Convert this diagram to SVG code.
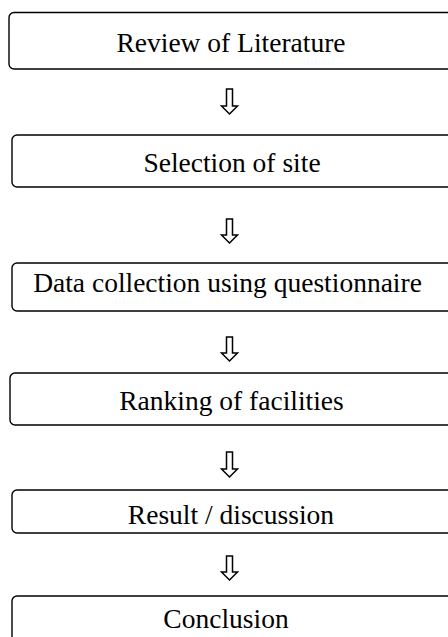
<svg xmlns="http://www.w3.org/2000/svg" width="448" height="637" viewBox="0 0 448 637">
<style>
.box{fill:#fff;stroke:#000;stroke-width:1.4}
.lbl{font-family:"Liberation Serif","Times New Roman",serif;font-size:27.5px;fill:#000;text-anchor:middle}
.arr{fill:#fff;stroke:#000;stroke-width:1.5;stroke-linejoin:miter}
</style>
<rect width="448" height="637" fill="#fff"/>
<g id="connectors">
<path class="arr" d="M226.5,89 H232.5 V106 H237.5 L229.5,114 L221.5,106 H226.5 Z"/>
<path class="arr" d="M226.5,219 H232.5 V235 H237.5 L229.5,243 L221.5,235 H226.5 Z"/>
<path class="arr" d="M226.5,337 H232.5 V353 H237.5 L229.5,361 L221.5,353 H226.5 Z"/>
<path class="arr" d="M226.5,452 H232.5 V469 H237.5 L229.5,477 L221.5,469 H226.5 Z"/>
<path class="arr" d="M226.5,556 H232.5 V572 H237.5 L229.5,580 L221.5,572 H226.5 Z"/>
</g>
<g id="n1"><rect class="box" x="9" y="12.5" width="460" height="56.5" rx="5"/><text class="lbl" x="231" y="52">Review of Literature</text></g>
<g id="n2"><rect class="box" x="12" y="135" width="460" height="52" rx="5"/><text class="lbl" x="232" y="172">Selection of site</text></g>
<g id="n3"><rect class="box" x="12" y="263" width="460" height="48" rx="5"/><text class="lbl" x="227.5" y="292">Data collection using questionnaire</text></g>
<g id="n4"><rect class="box" x="10" y="373" width="460" height="52" rx="5"/><text class="lbl" x="231.5" y="410">Ranking of facilities</text></g>
<g id="n5"><rect class="box" x="12" y="490" width="460" height="43" rx="5"/><text class="lbl" x="231" y="524">Result / discussion</text></g>
<g id="n6"><rect class="box" x="12" y="596" width="460" height="60" rx="5"/><text class="lbl" x="226" y="628">Conclusion</text></g>
</svg>
